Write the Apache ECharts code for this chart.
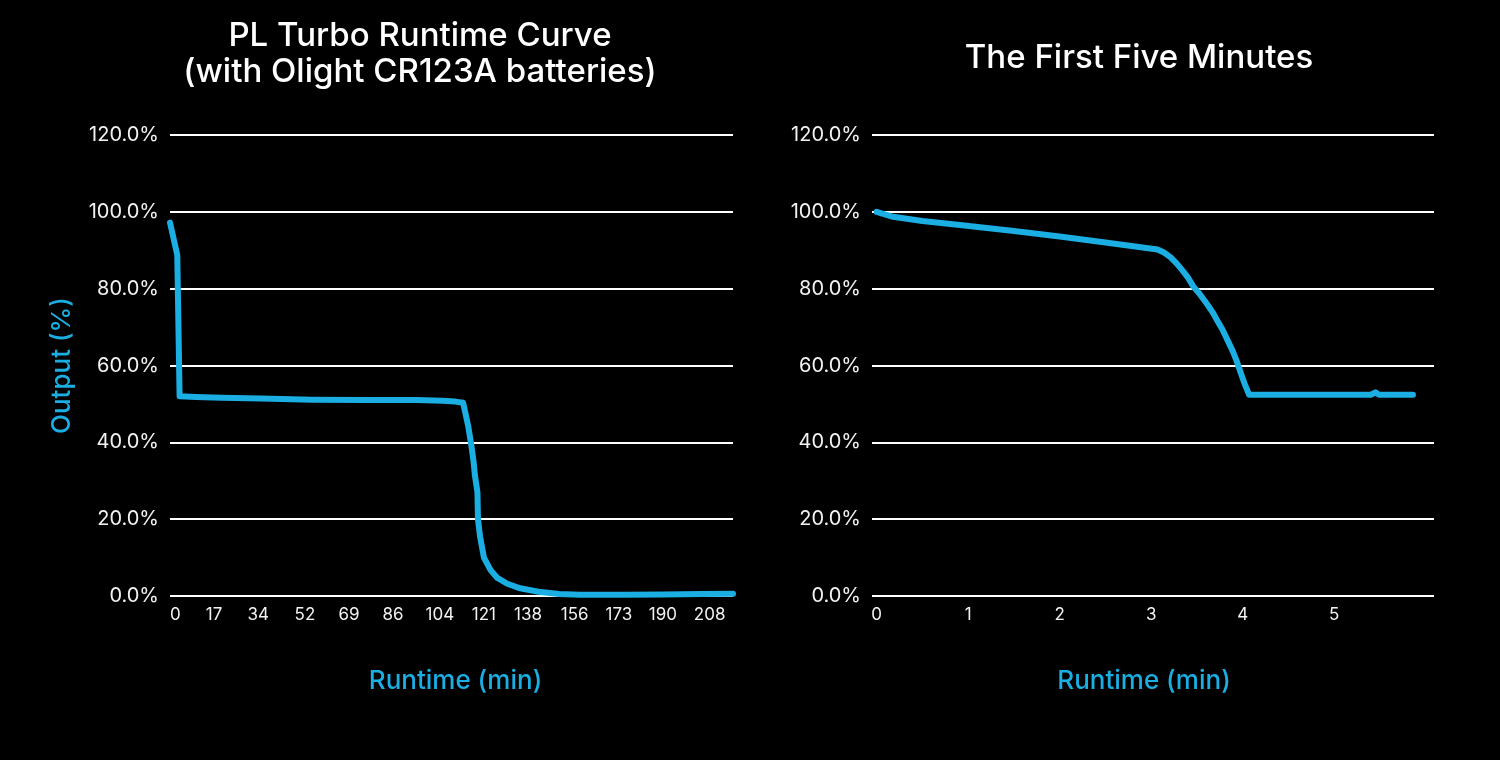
<!DOCTYPE html>
<html>
<head>
<meta charset="utf-8">
<style>
  html, body { margin: 0; padding: 0; background: #000; }
  #chart { width: 1500px; height: 760px; }
</style>
<script src="https://cdn.jsdelivr.net/npm/echarts@6/dist/echarts.min.js"></script>
</head>
<body>
<div id="chart"></div>
<script>
// ---- Data ----
const leftTitle = 'PL Turbo Runtime Curve\n(with Olight CR123A batteries)';
const rightTitle = 'The First Five Minutes';
const xName = 'Runtime (min)';
const yName = 'Output (%)';

// Full runtime curve: [minutes, output %]
const fullRuntime = [
  [0, 97.2], [2.8, 88.8], [3.7, 52.0], [10, 51.8], [20, 51.6], [35, 51.4],
  [55, 51.1], [75, 51.0], [95, 51.0], [105, 50.8], [110, 50.6], [113, 50.3],
  [115, 44.0], [116.3, 38.5], [117.0, 35.0], [117.5, 31.5], [118.5, 27.0],
  [118.7, 20.0], [119.5, 15.5], [121, 10.0], [123.5, 6.8], [126, 4.8],
  [130, 3.2], [135, 2.0], [142, 1.1], [150, 0.5], [158, 0.3], [175, 0.3],
  [190, 0.4], [205, 0.5], [217, 0.6]
];

// First five minutes: [minutes, output %]
const firstFive = [
  [0, 100.0], [0.18, 98.7], [0.5, 97.6], [0.91, 96.6], [1.5, 95.0],
  [2.0, 93.6], [2.5, 92.0], [3.07, 90.2], [3.14, 89.4], [3.21, 88.2],
  [3.28, 86.5], [3.35, 84.5], [3.41, 82.6], [3.46, 80.6], [3.53, 78.6],
  [3.61, 76.0], [3.67, 73.9], [3.72, 71.8], [3.78, 69.3], [3.83, 66.8],
  [3.89, 63.8], [3.94, 60.8], [3.98, 58.0], [4.02, 55.3], [4.07, 52.4],
  [5.40, 52.4], [5.45, 53.0], [5.49, 52.4], [5.86, 52.4]
];

const leftXTicks = [0, 17, 34, 52, 69, 86, 104, 121, 138, 156, 173, 190, 208];
const rightXTicks = [0, 1, 2, 3, 4, 5];
const yTicks = [0, 20, 40, 60, 80, 100, 120];

// ---- Styles ----
const BLUE = '#1AAEE2';
const FONT = 'Inter';
const LABEL = '#f2f2f2';

function xAxis(gridIndex, min, max, ticks, alignLeft, namePad) {
  return {
    type: 'value', gridIndex, min, max,
    name: xName, nameLocation: 'middle', nameGap: 72,
    nameTextStyle: { color: BLUE, fontSize: 26, fontFamily: FONT, fontWeight: 500, padding: namePad },
    axisLine: { show: false }, axisTick: { show: false },
    splitLine: { show: false },
    axisLabel: Object.assign({
      customValues: ticks, color: LABEL, fontSize: 17, fontFamily: FONT,
      margin: 10, showMaxLabel: true
    }, alignLeft ? { alignMinLabel: 'left' } : {})
  };
}
function yAxis(gridIndex, withName) {
  return {
    type: 'value', gridIndex, min: 0, max: 120, interval: 20,
    name: withName ? yName : '', nameLocation: 'middle', nameGap: 95,
    nameTextStyle: { color: BLUE, fontSize: 26, fontFamily: FONT, fontWeight: 500 },
    axisLine: { show: false }, axisTick: { show: false },
    splitLine: { show: true, lineStyle: { color: '#ffffff', width: 2 } },
    axisLabel: {
      customValues: yTicks, color: LABEL, fontSize: 20, fontFamily: FONT, margin: 11,
      formatter: v => v.toFixed(1) + '%'
    }
  };
}

const chart = echarts.init(document.getElementById('chart'), null, { renderer: 'canvas' });
chart.setOption({
  backgroundColor: '#000000',
  animation: false,
  title: [
    { text: leftTitle, left: 415, top: 13, textAlign: 'center',
      textStyle: { color: '#ffffff', fontSize: 33, fontWeight: 500, fontFamily: FONT, lineHeight: 36 } },
    { text: rightTitle, left: 1134, top: 35, textAlign: 'center',
      textStyle: { color: '#ffffff', fontSize: 33, fontWeight: 500, fontFamily: FONT, lineHeight: 36 } }
  ],
  grid: [
    { left: 170, right: 767, top: 135, bottom: 164 },
    { left: 872, right: 66, top: 135, bottom: 164 }
  ],
  xAxis: [ xAxis(0, 0, 217, leftXTicks, true, [0, 0, 0, 8]),
           xAxis(1, -0.05, 6.09, rightXTicks, false, [0, 18, 0, 0]) ],
  yAxis: [ yAxis(0, true), yAxis(1, false) ],
  series: [
    { type: 'line', xAxisIndex: 0, yAxisIndex: 0, data: fullRuntime, showSymbol: false,
      lineStyle: { color: BLUE, width: 6, cap: 'round', join: 'round' }, smooth: false },
    { type: 'line', xAxisIndex: 1, yAxisIndex: 1, data: firstFive, showSymbol: false,
      lineStyle: { color: BLUE, width: 6, cap: 'round', join: 'round' }, smooth: false }
  ]
});
</script>
</body>
</html>
